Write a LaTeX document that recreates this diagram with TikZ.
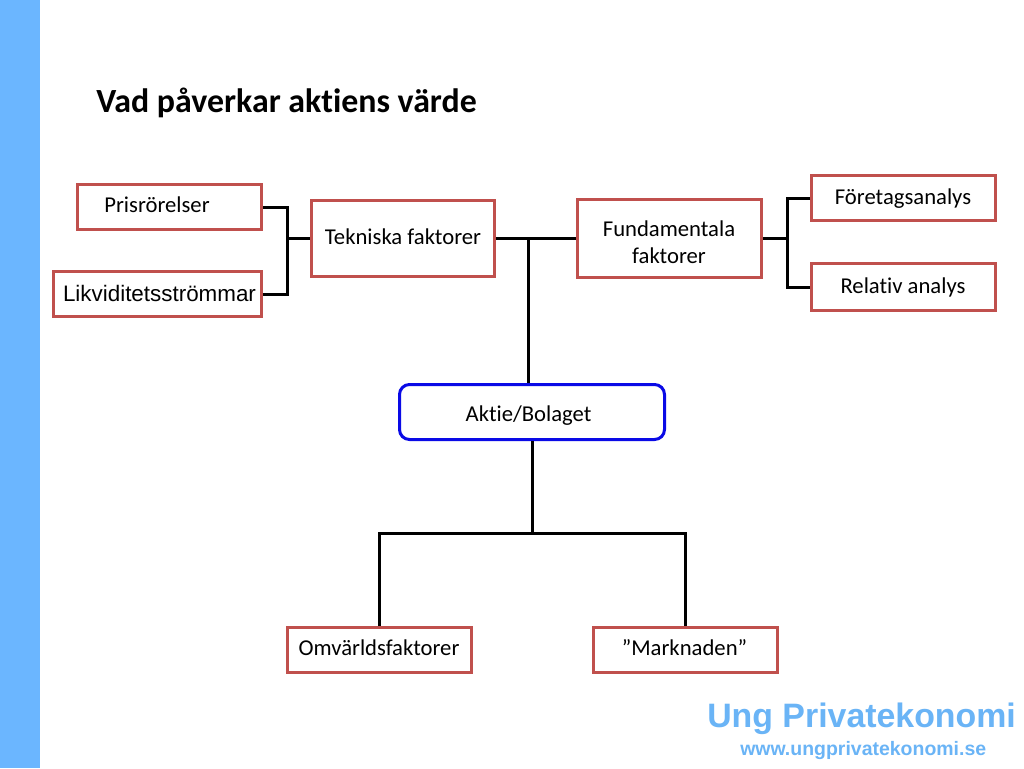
\documentclass[tikz,border=0pt]{standalone}
\usepackage{fontspec}
\setmainfont{Carlito}[Ligatures=NoCommon]
\newfontfamily\arialf{Liberation Sans}
\definecolor{boxred}{HTML}{C0504D}
\definecolor{aktieblue}{HTML}{0A0AE6}
\definecolor{barblue}{HTML}{6BB6FF}
\definecolor{logoblue}{HTML}{6AB4F6}
\tikzset{
  box/.style={draw=boxred, line width=2.25pt, fill=white, inner sep=0pt,
    minimum width=138pt, minimum height=33.75pt},
  txt/.style={anchor=base, inner sep=0pt, font=\fontsize{17}{20.25}\selectfont},
  conn/.style={line width=2.25pt, black},
}
\begin{document}
\begin{tikzpicture}[x=0.75pt,y=-0.75pt]
\useasboundingbox (0,0) rectangle (1024,768);
\fill[white] (0,0) rectangle (1024,768);
\fill[barblue] (0,0) rectangle (40,768);
\node[anchor=base west, inner sep=0pt, font=\bfseries\fontsize{25.4}{30}\selectfont] (title) at (96,112) {Vad påverkar aktiens värde};

\node[box] (pris) at (169.5,207) {};
\node[box, minimum width=156pt] (likv) at (157.5,294) {};
\node[box, minimum width=137.25pt, minimum height=57pt] (tek) at (403,238.5) {};
\node[box, minimum height=58.5pt] (fund) at (669.5,238.5) {};
\node[box] (foretag) at (903.5,198) {};
\node[box, minimum height=35.25pt] (relativ) at (903.5,287) {};
\node[box, draw=aktieblue, rounded corners=7.5pt, minimum width=198.75pt, minimum height=41.25pt] (aktie) at (532,412) {};
\node[box] (omv) at (379.5,650) {};
\node[box] (mark) at (685.5,650) {};

\node[txt] (prist) at (157,212) {Prisrörelser};
\node[txt, font=\arialf\fontsize{16.8}{20}\selectfont] (likvt) at (159.5,301) {Likviditetsströmmar};
\node[txt] (tekt) at (403,244) {Tekniska faktorer};
\node[txt] (fundt) at (669,236) {\begin{tabular}[t]{@{}c@{}}Fundamentala\\faktorer\end{tabular}};
\node[txt] (foretagt) at (903,204) {Företagsanalys};
\node[txt] (relativt) at (903,293) {Relativ analys};
\node[txt] (aktiet) at (528.5,421) {Aktie/Bolaget};
\node[txt] (omvt) at (379,655) {Omvärldsfaktorer};
\node[txt] (markt) at (684.5,655) {”Marknaden”};

\coordinate (jl) at (287,238.5);
\coordinate (jt) at (528,238.5);
\coordinate (jr) at (787,238.5);
\coordinate (jb) at (532,533);

\draw[conn] (pris.east) -| (jl) |- (likv.east);
\draw[conn] (jl) -- (tek.west);
\draw[conn] (tek.east) -- (fund.west);
\draw[conn] (jt) -- (jt |- aktie.north);
\draw[conn] (fund.east) -- (jr);
\draw[conn] (foretag.west) -| (jr) |- (relativ.west);
\draw[conn] (aktie.south) -- (jb);
\draw[conn] (omv.north) |- (jb) -| (mark.north);

\node[anchor=base west, inner sep=0pt, text=logoblue, font=\arialf\bfseries\fontsize{25.4}{30}\selectfont] (logo) at (707,727) {Ung Privatekonomi};
\node[anchor=base west, inner sep=0pt, text=logoblue, font=\arialf\bfseries\fontsize{14.6}{18}\selectfont] (url) at (740,755) {www.ungprivatekonomi.se};
\end{tikzpicture}
\end{document}
